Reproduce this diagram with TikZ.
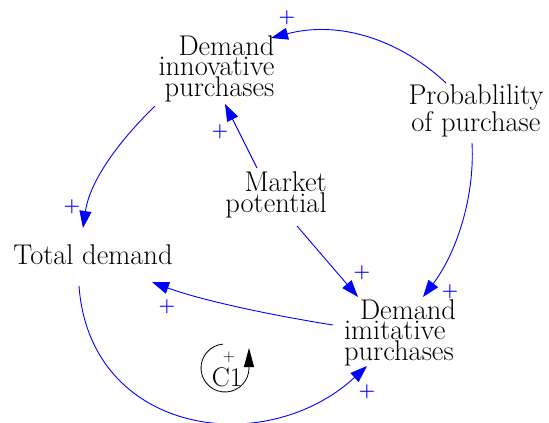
\documentclass[tikz,border=0pt]{standalone}
\usetikzlibrary{arrows.meta}
\definecolor{linkblue}{RGB}{0,0,255}
\begin{document}
\begin{tikzpicture}[x=1pt,y=-1pt,
  var/.style={inner sep=0pt, font=\fontsize{28.5}{18.5}\selectfont},
  link/.style={draw=linkblue, line width=0.9pt, -{Triangle[length=17pt,width=12pt]}, fill=none},
  pol/.style={text=linkblue, inner sep=0pt, font=\bfseries\fontsize{19}{19}\selectfont},
  loopmark/.style={line width=0.8pt, -{Triangle[length=19pt,width=10pt]}}]
\useasboundingbox (0,0) rectangle (549,423);
% variables
\node[var, align=right] (dip) at (216.5,69) {Demand\\innovative\\purchases};
\node[var, align=center] (prob) at (476,111) {Probablility\\of purchase};
\node[var, align=right] (mkt) at (276,195) {Market\\potential};
\node[var] (tot) at (93,255) {Total demand};
\node[var, align=left] (dim) at (400,333) {\hspace*{16pt}Demand\\imitative\\purchases};
% links
\draw[link] ([shift={(-30,-28)}]prob.center) .. controls (400,40) and (340,20) .. ([shift={(54.5,-31)}]dip.center);
\draw[link] ([shift={(-19,-27)}]mkt.center) -- ([shift={(8.5,35)}]dip.center);
\draw[link] ([shift={(-61.5,37)}]dip.center) .. controls (120,140) and (90,180) .. ([shift={(-10,-27)}]tot.center);
\draw[link] ([shift={(21,31)}]mkt.center) -- ([shift={(-42,-36)}]dim.center);
\draw[link] ([shift={(-4,32)}]prob.center) .. controls (475,200) and (455,255) .. ([shift={(23,-36)}]dim.center);
\draw[link] ([shift={(-67,-8)}]dim.center) .. controls (270,315) and (200,300) .. ([shift={(59,27)}]tot.center);
\draw[link] ([shift={(-14,31)}]tot.center) .. controls (90,435) and (265,460) .. ([shift={(-33,33)}]dim.center);
% polarities
\node[pol] (p1) at (287,18) {+};
\node[pol] (p2) at (220,132) {+};
\node[pol] (p3) at (72,207) {+};
\node[pol] (p4) at (362,273) {+};
\node[pol] (p5) at (450,292) {+};
\node[pol] (p6) at (167,307) {+};
\node[pol] (p7) at (367,392) {+};
% loop marker
\node[inner sep=0pt, font=\fontsize{27}{27}\selectfont] (c1) at (227,377) {C1};
\node[inner sep=0pt, font=\fontsize{17}{17}\selectfont] (c1sign) at (229,357) {+};
\coordinate (lc) at (225,368);
\draw[loopmark] ([shift={(-95:24)}]lc) arc[start angle=-95, end angle=-360, radius=24] -- ++(0,-20);
\end{tikzpicture}
\end{document}
